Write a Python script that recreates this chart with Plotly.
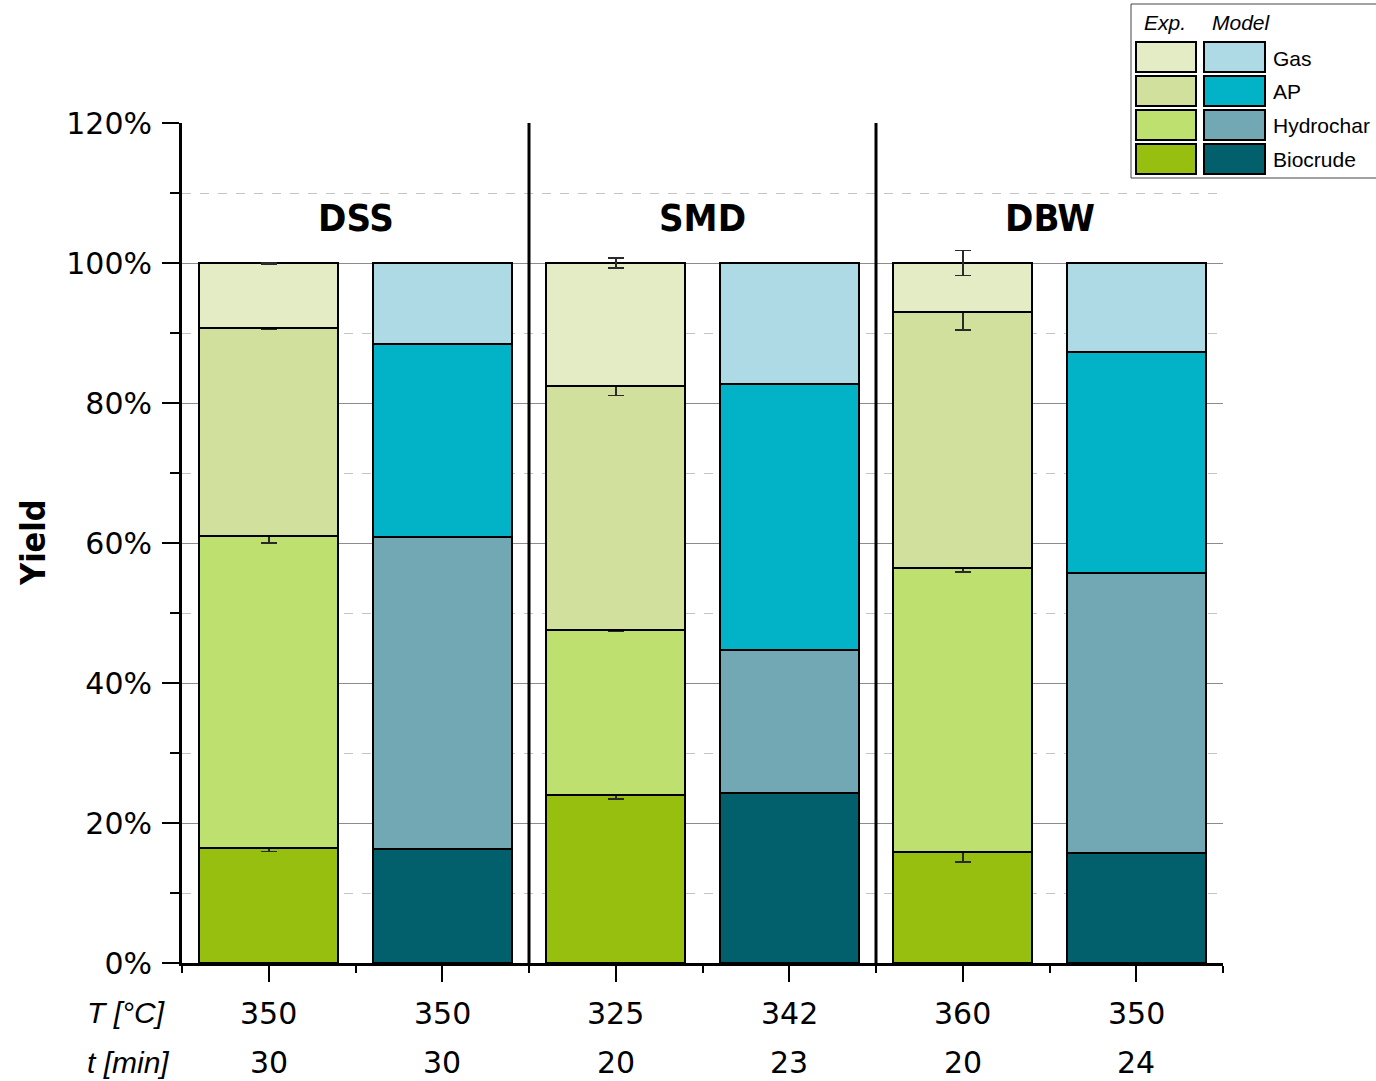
import plotly.graph_objects as go

# --- data -----------------------------------------------------------------
feeds = ["DSS", "SMD", "DBW"]
temps = ["350", "350", "325", "342", "360", "350"]
times = ["30", "30", "20", "23", "20", "24"]
phases = ["Biocrude", "Hydrochar", "AP", "Gas"]

# experimental yields per feed (%), stacked bottom-to-top
exp_biocrude = [16.5, 24.0, 15.85]
exp_hydrochar = [44.5, 23.55, 40.6]
exp_ap = [29.7, 34.95, 36.55]
exp_gas = [9.3, 17.5, 7.0]

# experimental standard deviations (%)
err_biocrude = [0.55, 0.55, 1.4]
err_hydrochar = [1.0, 0.1, 0.6]
err_ap = [0.15, 1.4, 2.6]
err_gas = [0.1, 0.7, 1.8]

# model yields per feed (%)
mod_biocrude = [16.35, 24.25, 15.7]
mod_hydrochar = [44.55, 20.45, 40.05]
mod_ap = [27.55, 38.0, 31.55]
mod_gas = [11.55, 17.3, 12.7]

y_ticks = [0, 20, 40, 60, 80, 100, 120]
y_tick_text = [f"{v}%" for v in y_ticks]

exp_colors = ["#97BF0F", "#BDE06E", "#D1E09C", "#E4ECC6"]
mod_colors = ["#01606C", "#72A8B3", "#02B2C6", "#ADDAE4"]

exp_vals = [exp_biocrude, exp_hydrochar, exp_ap, exp_gas]
exp_errs = [err_biocrude, err_hydrochar, err_ap, err_gas]
mod_vals = [mod_biocrude, mod_hydrochar, mod_ap, mod_gas]

x_exp = [0, 2, 4]
x_mod = [1, 3, 5]

COND = "DejaVu Sans Condensed, Liberation Sans Narrow, Roboto, sans-serif"
BASE = "DejaVu Sans, sans-serif"
ITAL = "Liberation Sans, Arial, sans-serif"

# --- layout geometry (pixels) --------------------------------------------
W, H = 1376, 1081
L, R, T, B = 182, 1223, 123, 963


def px(xp):
    return (xp - L) / (R - L)


def py(yp):
    return (B - yp) / (B - T)


fig = go.Figure()

for name, vals, errs, col in zip(phases, exp_vals, exp_errs, exp_colors):
    fig.add_trace(go.Bar(
        x=x_exp, y=vals, name=name + " (Exp.)", width=0.8,
        marker=dict(color=col, line=dict(color="black", width=2)),
        error_y=dict(type="data", array=errs, visible=True,
                     color="#2a2a2a", thickness=1.6, width=8),
        showlegend=False,
    ))

for name, vals, col in zip(phases, mod_vals, mod_colors):
    fig.add_trace(go.Bar(
        x=x_mod, y=vals, name=name + " (Model)", width=0.8,
        marker=dict(color=col, line=dict(color="black", width=2)),
        showlegend=False,
    ))

shapes = []
# group separators
for xs in [1.5, 3.5]:
    shapes.append(dict(type="line", xref="x", yref="y", x0=xs, x1=xs,
                       y0=0, y1=120, line=dict(color="black", width=3)))

annotations = []


def note(x, y, text, font, xref="paper", yref="paper", xanchor="center", **kw):
    annotations.append(dict(x=x, y=y, xref=xref, yref=yref, text=text,
                            xanchor=xanchor, yanchor="middle",
                            showarrow=False, font=font, **kw))


# feed labels
for i, f in enumerate(feeds):
    note(2 * i + 0.5, 106.4, f,
         dict(family=COND, size=38, color="black", weight="bold"),
         xref="x", yref="y")

# temperature / time rows below the axis
for i in range(6):
    note(i, py(1013), temps[i], dict(family=BASE, size=30, color="black"), xref="x")
    note(i, py(1062), times[i], dict(family=BASE, size=30, color="black"), xref="x")
note(px(85), py(1012), "<i>T [°C]</i>", dict(family=ITAL, size=30, color="black"),
     xanchor="left")
note(px(85), py(1062), "<i>t [min]</i>", dict(family=ITAL, size=30, color="black"),
     xanchor="left")

# y axis title
note(px(33), 0.5, "Yield", dict(family=COND, size=34, color="black", weight="bold"),
     textangle=-90)

# legend box: Exp. / Model columns of swatches
shapes.append(dict(type="rect", xref="paper", yref="paper",
                   x0=px(1131), x1=px(1390), y0=py(178), y1=py(4),
                   line=dict(color="#444", width=1), fillcolor="white"))
note(px(1142), py(23), "<i>Exp.</i>", dict(family=ITAL, size=21, color="black"),
     xanchor="left")
note(px(1210), py(23), "<i>Model</i>", dict(family=ITAL, size=21, color="black"),
     xanchor="left")
rows_top = [42, 76, 110, 144]
legend_order = [3, 2, 1, 0]  # Gas, AP, Hydrochar, Biocrude
for r, k in zip(rows_top, legend_order):
    shapes.append(dict(type="rect", xref="paper", yref="paper",
                       x0=px(1136), x1=px(1196), y0=py(r + 30), y1=py(r),
                       line=dict(color="black", width=2), fillcolor=exp_colors[k]))
    shapes.append(dict(type="rect", xref="paper", yref="paper",
                       x0=px(1204), x1=px(1265), y0=py(r + 30), y1=py(r),
                       line=dict(color="black", width=2), fillcolor=mod_colors[k]))
    note(px(1271), py(r + 16), phases[k], dict(family=ITAL, size=21, color="black"),
         xanchor="left")

fig.update_layout(
    width=W, height=H,
    margin=dict(l=L, r=W - R, t=T, b=H - B, pad=0),
    paper_bgcolor="white", plot_bgcolor="white",
    barmode="stack", bargap=0,
    shapes=shapes, annotations=annotations,
    font=dict(family=BASE, color="black"),
)

fig.update_xaxes(
    range=[-0.5, 5.5], tickvals=list(range(6)), showticklabels=False,
    ticks="outside", ticklen=16, tickwidth=2, tickcolor="black",
    showline=True, linecolor="black", linewidth=3,
    showgrid=False, zeroline=False,
    minor=dict(tick0=-0.5, dtick=1, ticks="outside", ticklen=7,
               tickwidth=2, tickcolor="black", showgrid=False),
)

fig.update_yaxes(
    range=[0, 120], tickmode="array", tickvals=y_ticks, ticktext=y_tick_text,
    ticks="outside", ticklen=17, tickwidth=2, tickcolor="black",
    ticklabelstandoff=4,
    tickfont=dict(family=BASE, size=30, color="black"),
    showline=True, linecolor="black", linewidth=3,
    showgrid=True, gridcolor="#8c8c8c", gridwidth=1, zeroline=False,
    minor=dict(dtick=10, ticks="outside", ticklen=9, tickwidth=2,
               tickcolor="black", showgrid=True, gridcolor="#c4c4c4",
               griddash="dash", gridwidth=1),
)

fig.write_html("out.html")
